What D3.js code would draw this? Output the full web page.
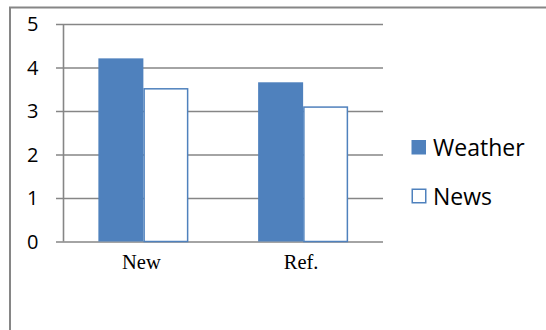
<!DOCTYPE html>
<html>
<head>
<meta charset="utf-8">
<script src="https://cdn.jsdelivr.net/npm/d3@7"></script>
<style>
  html, body { margin: 0; padding: 0; background: #fff; }
  svg { display: block; }
</style>
</head>
<body>
<svg id="chart" width="546" height="330"></svg>
<script>
// Chart data
const categories = ["New", "Ref."];
const seriesNames = ["Weather", "News"];
const weatherValues = [4.21, 3.66];
const newsValues = [3.51, 3.09];
const yTicks = [0, 1, 2, 3, 4, 5];

const svg = d3.select("#chart");
const blue = "#4F81BD";
const gridColor = "#868686";

// Outer chart frame (left and top edges visible)
svg.append("path")
  .attr("d", "M10,330 V7.5 H546")
  .attr("fill", "none")
  .attr("stroke", gridColor)
  .attr("stroke-width", 2);

const plot = { left: 63.5, right: 383, top: 24, bottom: 241.5 };

const y = d3.scaleLinear().domain([0, 5]).range([plot.bottom, plot.top]);
const x0 = d3.scaleBand().domain(categories).range([plot.left, plot.right]).paddingInner(0).paddingOuter(0);
const x1 = d3.scaleBand().domain(seriesNames).range([0, 90]);
const groupOffset = (x0.bandwidth() - 90) / 2;

// Horizontal gridlines with short tick stubs to the left of the axis
const yAxis = d3.axisLeft(y).tickValues(yTicks).tickSize(-(plot.right - plot.left)).tickPadding(0).tickFormat("");
const gy = svg.append("g").attr("transform", `translate(${plot.left},0)`).call(yAxis);
gy.select(".domain").remove();
gy.selectAll(".tick line")
  .attr("x1", -7.5)
  .attr("stroke", gridColor)
  .attr("stroke-width", 1.6);

// Vertical axis line
svg.append("line")
  .attr("x1", plot.left).attr("x2", plot.left)
  .attr("y1", plot.top).attr("y2", plot.bottom)
  .attr("stroke", gridColor).attr("stroke-width", 1.6);

// Y tick labels
svg.append("g").selectAll("text")
  .data(yTicks)
  .join("text")
  .attr("x", 38.5)
  .attr("y", d => y(d))
  .attr("dy", "0.37em")
  .attr("text-anchor", "end")
  .attr("font-family", "'Open Sans', 'Liberation Sans', sans-serif")
  .attr("font-size", 20)
  .attr("fill", "#000")
  .text(d => d);

// Bars
const rows = categories.map((c, i) => ({ cat: c, values: [weatherValues[i], newsValues[i]] }));
const groups = svg.append("g").selectAll("g")
  .data(rows)
  .join("g")
  .attr("transform", d => `translate(${x0(d.cat) + groupOffset},0)`);

groups.selectAll("rect")
  .data(d => d.values.map((v, j) => ({ name: seriesNames[j], value: v })))
  .join("rect")
  .attr("x", d => x1(d.name) + (d.name === "News" ? 0.75 : 0))
  .attr("y", d => y(d.value))
  .attr("width", d => x1.bandwidth() - (d.name === "News" ? 1.5 : 0))
  .attr("height", d => y(0) - y(d.value))
  .attr("fill", d => d.name === "Weather" ? blue : "#fff")
  .attr("stroke", d => d.name === "News" ? blue : "none")
  .attr("stroke-width", 1.5);

// Category labels
svg.append("g").selectAll("text")
  .data(categories)
  .join("text")
  .attr("x", d => x0(d) + x0.bandwidth() / 2 - 2)
  .attr("y", 269)
  .attr("text-anchor", "middle")
  .attr("font-family", "'Liberation Serif', 'Times New Roman', serif")
  .attr("font-size", 20.5)
  .attr("fill", "#000")
  .text(d => d);

// Legend
const legend = svg.append("g").selectAll("g")
  .data(seriesNames)
  .join("g")
  .attr("transform", (d, i) => `translate(411.5,${140 + i * 48.5})`);

legend.append("rect")
  .attr("x", d => d === "News" ? 0.75 : 0)
  .attr("y", d => d === "News" ? 0.75 : 0)
  .attr("width", d => d === "News" ? 13.5 : 14.5)
  .attr("height", d => d === "News" ? 13.5 : 14.5)
  .attr("fill", d => d === "Weather" ? blue : "#fff")
  .attr("stroke", d => d === "News" ? blue : "none")
  .attr("stroke-width", 1.5);

legend.append("text")
  .attr("x", 21.5)
  .attr("y", 16)
  .attr("font-family", "'Open Sans', 'Liberation Sans', sans-serif")
  .attr("font-size", 23)
  .attr("fill", "#000")
  .text(d => d);
</script>
</body>
</html>
